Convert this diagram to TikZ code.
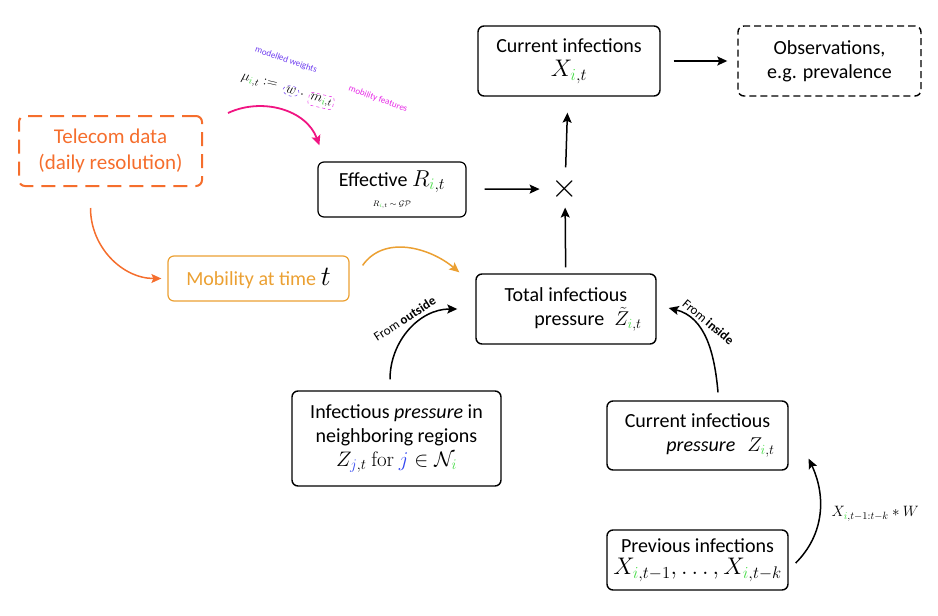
\RequirePackage{fix-cm}
\documentclass[tikz,border=0pt]{standalone}
\usepackage[no-math]{fontspec}
\setmainfont{Carlito}
\usepackage{amsmath}
\usepackage{amssymb}
\usetikzlibrary{arrows.meta, shapes.geometric}

\definecolor{telecom}{RGB}{245,110,45}
\definecolor{mobil}{RGB}{235,160,50}
\definecolor{mupink}{RGB}{240,20,130}
\definecolor{wcol}{RGB}{110,60,240}
\definecolor{mcol}{RGB}{230,40,230}
\definecolor{igreen}{RGB}{70,220,70}
\definecolor{jblue}{RGB}{50,70,240}

\newcommand{\iidx}{{\color{igreen}i}}
\newcommand{\jidx}{{\color{jblue}j}}
\newcommand{\lgm}[1]{{\fontsize{24}{24}\selectfont$#1$}}

\tikzset{
  box/.style={draw, line width=1.4pt, rounded corners=6pt, align=center, font=\fontsize{20}{24}\selectfont},
  arrline/.style={->, line width=1.5pt},
  tinylabel/.style={font=\fontsize{9}{9}\selectfont, inner sep=0pt},
  formula/.style={rotate=-13, font=\fontsize{14}{14}\selectfont},
  fromlabel/.style={anchor=south, inner sep=6pt, font=\fontsize{13}{13}\selectfont}
}

\begin{document}
\begin{tikzpicture}[x=1pt, y=-1pt, >={Stealth[length=10pt, width=9pt, inset=2pt]}]
\useasboundingbox (0,0) rectangle (938,616);

% Top row
\node[box, minimum width=182pt, minimum height=70pt] (curinf) at (569,61) {Current infections\\ \lgm{X_{\iidx,t}}};
\node[box, dash pattern=on 7pt off 4pt, minimum width=183pt, minimum height=70pt] (obs) at (829.5,61) {Observations,\\ e.g. prevalence};

% Effective reproduction number and product
\node[box, line width=1.2pt, minimum width=148pt, minimum height=55pt] (eff) at (392,189.5) {Effective {\fontsize{23}{23}\selectfont$R_{\iidx,t}$}\\[-4pt] {\fontsize{8}{8}\selectfont$R_{\iidx,t}\sim\mathcal{GP}$}};
\node[font=\fontsize{34}{34}\selectfont, inner sep=0pt] (mult) at (565,189) {$\times$};

% Telecom / mobility inputs
\node[box, draw=telecom, text=telecom, line width=2pt, dash pattern=on 14pt off 8pt, font=\fontsize{21}{26}\selectfont, minimum width=183pt, minimum height=70pt] (telecom) at (110.5,151) {Telecom data\\(daily resolution)};
\node[box, draw=mobil, text=mobil, line width=1.2pt, minimum width=181pt, minimum height=45pt] (mob) at (258.5,278.5) {Mobility at time \textcolor{black}{\fontsize{28}{28}\selectfont$t$}};

% Infectious pressure
\node[box, minimum width=180pt, minimum height=70pt] (total) at (566,309) {Total infectious\\ \hspace*{44pt}pressure\hspace{10pt}$\tilde{Z}_{\iidx,t}$};
\node[box, minimum width=209pt, minimum height=95pt] (nbr) at (396.5,438.5) {Infectious \textit{pressure} in\\ neighboring regions\\ {\fontsize{21}{21}\selectfont$Z_{\jidx,t}\ \mathrm{for}\ \jidx\in\mathcal{N}_{\iidx}$}};
\node[box, minimum width=181pt, minimum height=69pt] (curpres) at (697.5,435.5) {Current infectious\\ \hspace*{46pt}\textit{pressure}\hspace{12pt}$Z_{\iidx,t}$};
\node[box, inner sep=3pt, minimum width=181pt, minimum height=60pt] (prev) at (697.5,560) {Previous infections\\[-2pt] \lgm{X_{\iidx,t-1},\dots,X_{\iidx,t-k}}};

% Mobility model formula
\node[formula, inner sep=0pt] (mu) at (259,83) {$\mu_{\iidx,t}\mathrel{:=}$};
\node[formula, ellipse, draw=wcol, dashed, line width=0.5pt, inner sep=0.6pt] (wnode) at (291,91) {$w$};
\node[formula, inner sep=0pt] (cdot) at (302,95) {$\cdot$};
\node[formula, draw=mcol, dashed, line width=0.5pt, rounded corners=3pt, inner sep=1.5pt] (mnode) at (321,101) {$m_{\iidx,t}$};
\node[tinylabel, text=wcol, rotate=-19] (wlabel) at (286,60) {modelled weights};
\node[tinylabel, text=mcol, rotate=-20] (mlabel) at (378,99) {mobility features};
\coordinate (mustart) at (228,113);

% Arrows
\draw[arrline, shorten <=13pt, shorten >=10pt] (curinf) -- (obs);
\draw[arrline, shorten <=18pt, shorten >=12pt] (eff) -- (mult);
\draw[arrline, shorten <=10pt, shorten >=16pt] (mult) -- (curinf);
\draw[arrline, shorten <=6pt, shorten >=7pt] (total) -- (mult);

% Curved arrows
\draw[->, telecom, line width=1.5pt] ([xshift=-20pt,yshift=-21pt]telecom.south) to[out=-90, in=180] ([xshift=-6pt]mob.west);
\draw[->, mobil, line width=1.5pt] ([xshift=13pt,yshift=-10pt]mob.north east) to[out=55, in=140] ([xshift=-16pt,yshift=1pt]total.north west);
\draw[->, mupink, line width=1.8pt] (mustart) to[out=25, in=110] ([xshift=2pt,yshift=16pt]eff.north west);
\draw[arrline] ([xshift=-6.5pt,yshift=11pt]nbr.north) to[out=90, in=180] node[fromlabel, rotate=33, pos=0.52] {From \textbf{outside}} ([xshift=-18pt]total.west);
\draw[arrline] ([xshift=20.5pt,yshift=8pt]curpres.north) to[out=95, in=-14] node[fromlabel, rotate=-40, pos=0.6] {From \textbf{inside}} ([xshift=12pt,yshift=1pt]total.east);
\draw[arrline] ([xshift=7pt,yshift=-3pt]prev.east) to[out=45, in=-65] node[right, pos=0.5, xshift=8pt, font=\fontsize{15}{15}\selectfont] {$X_{\iidx,t-1:t-k}*W$} ([xshift=20pt,yshift=12pt]curpres.south east);

\end{tikzpicture}
\end{document}
